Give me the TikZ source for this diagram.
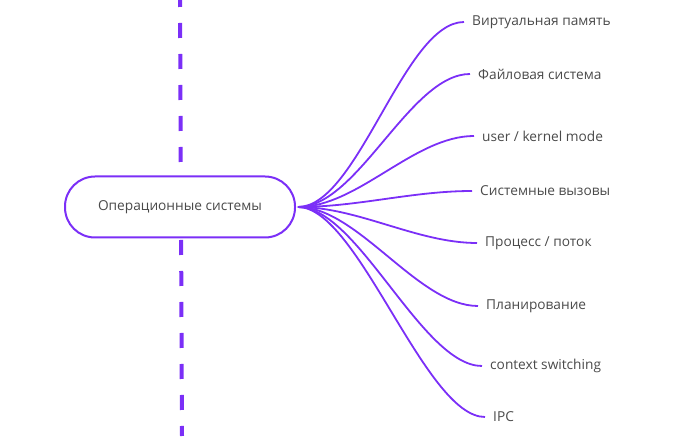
\documentclass[tikz,border=0pt]{standalone}
\usepackage{fontspec}
\setmainfont{Open Sans}
\usetikzlibrary{positioning}
\definecolor{branch}{HTML}{7B2FF7}
\definecolor{label}{HTML}{4A4A4A}

\begin{document}
\begin{tikzpicture}[x=1pt, y=-1pt, font=\fontsize{13.7}{16}\selectfont]
    \tikzset{topic/.style={draw=branch, line width=2pt, fill=white, rounded corners=30pt,
                           minimum width=230pt, minimum height=61pt, text=label},
             leaf/.style={anchor=west, inner xsep=8pt, text=label},
             link/.style={draw=branch, line width=1.8pt}}
    \useasboundingbox (0,0) rectangle (675,438);
    \draw[branch, line width=4pt, dash pattern=on 15pt off 16pt, dash phase=8pt] (180,0) -- (182,436);
    \node[topic] (root) at (180,207) {Операционные системы};
    \coordinate[right=2pt of root] (hub);
    \node[leaf] (vm) at (464,22) {Виртуальная память};
    \node[leaf] (fs) at (470,74) {Файловая система};
    \node[leaf] (mode) at (474,136) {user / kernel mode};
    \node[leaf] (sys) at (472,191) {Системные вызовы};
    \node[leaf] (proc) at (477,243) {Процесс / поток};
    \node[leaf] (sched) at (478,306) {Планирование};
    \node[leaf] (ctx) at (482,366) {context switching};
    \node[leaf] (ipc) at (485,417) {IPC};
    \draw[link] (hub) .. controls +(60,0) and +(-60,0) .. (vm.west);
    \draw[link] (hub) .. controls +(60,0) and +(-60,0) .. (fs.west);
    \draw[link] (hub) .. controls +(60,0) and +(-60,0) .. (mode.west);
    \draw[link] (hub) .. controls +(60,0) and +(-60,0) .. (sys.west);
    \draw[link] (hub) .. controls +(60,0) and +(-60,0) .. (proc.west);
    \draw[link] (hub) .. controls +(60,0) and +(-60,0) .. (sched.west);
    \draw[link] (hub) .. controls +(60,0) and +(-60,0) .. (ctx.west);
    \draw[link] (hub) .. controls +(60,0) and +(-60,0) .. (ipc.west);
\end{tikzpicture}
\end{document}
